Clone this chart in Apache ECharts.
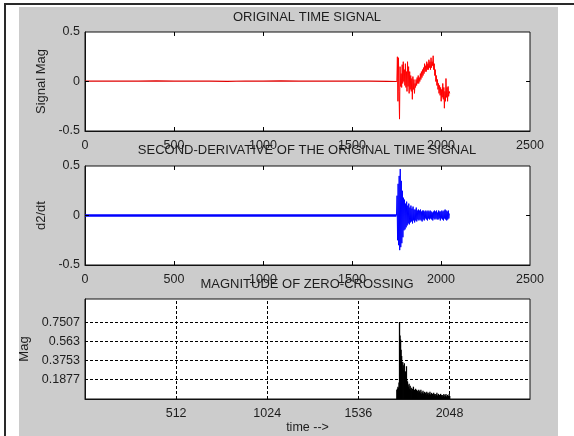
<!DOCTYPE html>
<html><head><meta charset="utf-8">
<script src="https://cdn.jsdelivr.net/npm/echarts@6/dist/echarts.min.js"></script>
<style>
html,body{margin:0;padding:0;background:#fff}
#wrap{position:relative;width:574px;height:436px;overflow:hidden;background:#fff}
#gray{position:absolute;left:19px;top:7px;width:539px;height:429px;background:#cccccc}
#ft{position:absolute;left:4px;top:3px;width:570px;height:2px;background:#2a2a2a}
#fl{position:absolute;left:4px;top:3px;width:2px;height:433px;background:#2a2a2a}
.pb{position:absolute;left:85px;width:445px;background:#fff}
#c{position:absolute;left:0;top:0;width:574px;height:436px}
</style>
</head><body>
<div id="wrap"><div id="gray"></div><div id="ft"></div><div id="fl"></div>
<div class="pb" style="top:32px;height:99px"></div>
<div class="pb" style="top:166px;height:99px"></div>
<div class="pb" style="top:299px;height:100px"></div>
<div id="c"></div></div>
<script>
// ---------- data ----------
const titles = ['ORIGINAL TIME SIGNAL', 'SECOND-DERIVATIVE OF THE ORIGINAL TIME SIGNAL', 'MAGNITUDE OF ZERO-CROSSING'];
const yNames = ['Signal Mag', 'd2/dt', 'Mag'];
const xName3 = 'time -->';
const xRange = [0, 2500];
const xStep12 = 500;
const yRange12 = [-0.5, 0.5];
const xTicks12 = [500, 1000, 1500, 2000];
const yTicks12 = [0];
const xTicks3 = [512, 1024, 1536, 2048];
const xTickLabels3 = ['512', '1024', '1536', '2048'];
const yTicks3 = [0.187675, 0.37535, 0.563025, 0.7507];
const yTickLabels3 = ['0.1877', '0.3753', '0.563', '0.7507'];
const yMax3 = 0.9759;

// original signal: quiet part (x, value)
const sigQuiet = [[0,0.004],[100,0.003],[200,0.005],[300,0.004],[400,0.006],[500,0.003],[600,0.005],[700,0.004],[800,0.002],[900,0.005],[1000,0.004],[1100,0.006],[1200,0.003],[1300,0.004],[1400,0.005],[1500,0.003],[1600,0.004],[1700,0.002],[1752,0.0]];
// original signal: active part, samples every 3 from 1752
const burstStart = 1752, burstStep = 3;
const sigBurst = [0.0,0.25,-0.2,0.24,-0.1,-0.38,0.15,-0.05,0.08,-0.06,0.17,-0.02,0.2,0.0,0.12,-0.04,0.18,-0.06,0.1,-0.1,0.2,-0.05,0.15,-0.12,0.1,-0.08,0.06,-0.1,0.03,-0.18,0.05,-0.08,0.02,-0.12,-0.02,-0.06,0.02,-0.04,0.04,-0.02,0.06,-0.02,0.04,0.0,0.08,0.02,0.1,0.04,0.12,0.06,0.14,0.08,0.18,0.1,0.16,0.1,0.2,0.12,0.18,0.12,0.22,0.14,0.2,0.12,0.24,0.14,0.2,0.16,0.26,0.12,0.18,0.06,0.12,0.0,0.06,-0.04,0.02,-0.08,-0.02,-0.12,-0.04,-0.14,-0.06,-0.2,-0.08,-0.16,-0.02,-0.18,-0.06,-0.27,-0.1,-0.2,0.03,-0.16,-0.06,-0.2,-0.05,-0.15,-0.1,-0.12];
// second derivative: quiet part and active part
const d2Quiet = [[0,0],[500,0],[1000,0],[1500,0],[1750,0]];
const d2Start = 1750, d2Step = 3;
const d2Burst = [0,0.2,-0.25,0.32,-0.3,0.4,-0.35,0.47,-0.32,0.35,-0.28,0.25,-0.22,0.18,-0.15,0.16,-0.14,0.12,-0.12,0.14,-0.1,0.1,-0.08,0.12,-0.09,0.08,-0.07,0.1,-0.06,0.07,-0.08,0.09,-0.05,0.06,-0.07,0.06,-0.05,0.08,-0.06,0.05,-0.04,0.06,-0.05,0.05,-0.04,0.06,-0.05,0.04,-0.06,0.05,-0.04,0.05,-0.05,0.04,-0.03,0.05,-0.04,0.04,-0.05,0.05,-0.03,0.04,-0.04,0.05,-0.03,0.04,-0.04,0.03,-0.05,0.04,-0.03,0.05,-0.04,0.04,-0.03,0.05,-0.04,0.03,-0.04,0.05,-0.03,0.04,-0.05,0.04,-0.03,0.05,-0.04,0.04,-0.05,0.05,-0.03,0.06,-0.04,0.05,-0.05,0.04,-0.04,0.05,-0.03,0.02];
// zero-crossing magnitude, samples every 3 from 1752
const zcStart = 1752, zcStep = 3;
const zcMag = [0.09,0.1,0.12,0.11,0.16,0.7507,0.62,0.58,0.48,0.42,0.3,0.36,0.33,0.28,0.35,0.24,0.27,0.2,0.32,0.18,0.17,0.14,0.12,0.15,0.1,0.13,0.09,0.11,0.08,0.1,0.07,0.12,0.08,0.09,0.07,0.1,0.08,0.09,0.07,0.08,0.06,0.09,0.07,0.08,0.06,0.09,0.05,0.07,0.06,0.08,0.05,0.06,0.07,0.05,0.06,0.04,0.07,0.05,0.06,0.04,0.06,0.05,0.07,0.04,0.05,0.06,0.04,0.05,0.03,0.06,0.04,0.05,0.03,0.05,0.04,0.06,0.03,0.04,0.05,0.03,0.04,0.02,0.05,0.03,0.04,0.02,0.04,0.03,0.05,0.02,0.04,0.03,0.05,0.02,0.03,0.04,0.02,0.03,0.05,0.03];

// ---------- chart ----------
const FF = '"Liberation Sans", Arial, Helvetica, sans-serif';
const TXT = {fontFamily: FF, fontSize: 12.5, color: '#1e1e1e'};
const withX = (start, step, arr) => arr.map((v, i) => [start + i * step, v]);
const plain = v => String(v);

const grids = [
  {left: 85, top: 32, width: 445, height: 99},
  {left: 85, top: 166, width: 445, height: 99},
  {left: 85, top: 299, width: 445, height: 100}
].map(g => Object.assign(g, {show: true, backgroundColor: 'transparent', borderColor: '#111', borderWidth: 1}));

const mkLine = () => ({show: true, onZero: false, lineStyle: {color: '#111', width: 1}});
function xAx(gi) {
  return {gridIndex: gi, type: 'value', min: xRange[0], max: xRange[1], interval: xStep12,
    axisLine: mkLine(), axisTick: {show: false}, splitLine: {show: false},
    axisLabel: Object.assign({margin: 8, formatter: plain}, TXT)};
}
function yAx(gi, name) {
  return {gridIndex: gi, type: 'value', min: yRange12[0], max: yRange12[1], interval: 0.5,
    axisLine: mkLine(), axisTick: {show: false}, splitLine: {show: false},
    name: name, nameLocation: 'middle', nameGap: 30, nameTextStyle: Object.assign({}, TXT, {fontSize: 13}),
    axisLabel: Object.assign({margin: 5, formatter: plain}, TXT)};
}

// inward tick marks (MATLAB style) on all four sides, in data units (~4px long)
const tickLenY = 0.04, tickLenX = 22;
function tickMarks() {
  const m = [];
  xTicks12.forEach(v => {
    m.push([{coord: [v, yRange12[0]]}, {coord: [v, yRange12[0] + tickLenY]}]);
    m.push([{coord: [v, yRange12[1]]}, {coord: [v, yRange12[1] - tickLenY]}]);
  });
  yTicks12.forEach(v => {
    m.push([{coord: [xRange[0], v]}, {coord: [xRange[0] + tickLenX, v]}]);
    m.push([{coord: [xRange[1], v]}, {coord: [xRange[1] - tickLenX, v]}]);
  });
  return {silent: true, symbol: ['none', 'none'], label: {show: false}, animation: false,
    lineStyle: {color: '#000', width: 1, type: 'solid'}, data: m};
}

const xAxes = [
  xAx(0), xAx(1),
  {gridIndex: 2, type: 'value', min: xRange[0], max: xRange[1], interval: 512,
    axisLine: mkLine(), axisTick: {show: false}, splitLine: {show: false},
    name: xName3, nameLocation: 'middle', nameGap: 19, nameTextStyle: TXT,
    axisLabel: Object.assign({margin: 8, formatter: v => { const i = xTicks3.indexOf(v); return i >= 0 ? xTickLabels3[i] : ''; }}, TXT)}
];
const yAxes = [
  yAx(0, yNames[0]), yAx(1, yNames[1]),
  {gridIndex: 2, type: 'value', min: 0, max: yMax3, interval: yTicks3[0],
    axisLine: mkLine(), axisTick: {show: false}, splitLine: {show: false},
    name: yNames[2], nameLocation: 'middle', nameGap: 46, nameTextStyle: Object.assign({}, TXT, {fontSize: 13}),
    axisLabel: Object.assign({margin: 5, formatter: v => { const i = yTicks3.findIndex(t => Math.abs(t - v) < 1e-4); return i >= 0 ? yTickLabels3[i] : ''; }}, TXT)}
];

const gridMarks = xTicks3.map(v => ({xAxis: v})).concat(yTicks3.map(v => ({yAxis: v})));

const option = {
  backgroundColor: 'transparent',
  animation: false,
  title: titles.map((t, i) => ({text: t, left: 307, top: [11, 144, 278][i], textAlign: 'center', padding: 0,
    textStyle: {fontFamily: FF, fontSize: 13, fontWeight: 'normal', color: '#1e1e1e'}})),
  grid: grids,
  xAxis: xAxes,
  yAxis: yAxes,
  series: [
    {type: 'line', xAxisIndex: 0, yAxisIndex: 0, data: sigQuiet, symbol: 'none', lineStyle: {color: '#e00000', width: 1.2}, silent: true, markLine: tickMarks()},
    {type: 'line', xAxisIndex: 0, yAxisIndex: 0, data: withX(burstStart, burstStep, sigBurst), symbol: 'none', lineStyle: {color: '#ff0000', width: 1}, silent: true},
    {type: 'line', xAxisIndex: 1, yAxisIndex: 1, data: d2Quiet, symbol: 'none', lineStyle: {color: '#0000ff', width: 2.5}, silent: true, markLine: tickMarks()},
    {type: 'line', xAxisIndex: 1, yAxisIndex: 1, data: withX(d2Start, d2Step, d2Burst), symbol: 'none', lineStyle: {color: '#0000ff', width: 1}, silent: true},
    {type: 'bar', xAxisIndex: 2, yAxisIndex: 2, data: withX(zcStart, zcStep, zcMag), barWidth: 1.3, itemStyle: {color: '#000'}, silent: true,
      markLine: {silent: true, symbol: ['none', 'none'], label: {show: false}, animation: false,
        lineStyle: {color: '#000', width: 1, type: [3, 2]}, data: gridMarks}}
  ]
};
const chart = echarts.init(document.getElementById('c'), null, {renderer: 'canvas'});
chart.setOption(option);
</script>
</body></html>
